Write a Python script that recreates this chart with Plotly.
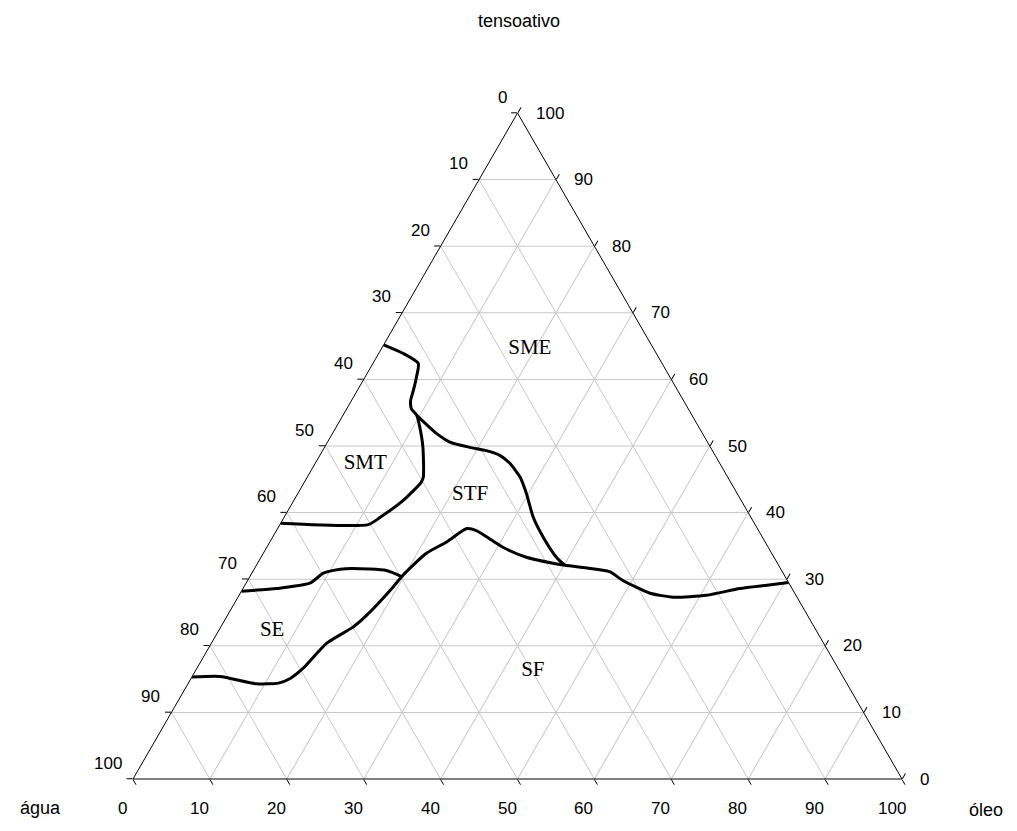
import plotly.graph_objects as go

# Values in percent.
# tensoativo = top vertex, água = bottom-left vertex, óleo = bottom-right vertex
# Each boundary: tensoativo %, óleo % (água = 100 - tensoativo - óleo)

smt_tens = [38.4, 38.2, 39.3, 41.8, 44.5, 45.3, 49.8, 52.8, 54.6, 55.6, 56.8, 58.3, 60.3, 62.4, 63.9, 65.2]
smt_oleo = [0.0, 11.5, 12.5, 14.2, 15.2, 15.1, 12.8, 10.9, 9.6, 8.4, 7.7, 7.3, 6.7, 5.9, 3.2, 0.0]

sme_tens = [54.6, 51.9, 50.6, 49.8, 49.3, 48.6, 47.4, 45.3, 42.9, 39.3, 36.3, 33.3, 32.1]
sme_oleo = [9.6, 13.5, 15.9, 18.9, 21.3, 23.4, 25.3, 27.7, 29.7, 32.4, 35.2, 38.4, 40.1]

sf_tens = [15.3, 15.4, 14.3, 14.4, 15.1, 16.6, 20.4, 22.8, 24.6, 28.8, 30.6, 33.9, 35.6, 37.6, 37.3,
           34.8, 33.3, 32.4, 32.1, 31.5, 31.1, 29.8, 27.9, 27.3, 27.6, 28.6, 29.1, 29.5]
sf_oleo = [0.0, 3.6, 8.9, 11.7, 12.9, 13.8, 15.0, 17.2, 18.1, 19.4, 19.8, 21.2, 23.0, 24.6, 26.0,
           30.7, 34.5, 38.4, 40.1, 44.5, 46.5, 48.8, 53.3, 56.6, 60.8, 64.6, 67.9, 70.5]

se_tens = [28.2, 28.6, 29.4, 30.9, 31.5, 31.6, 31.3, 30.4]
se_oleo = [0.0, 4.4, 8.3, 9.3, 11.2, 12.8, 17.3, 19.7]

region_names = ["SME", "SMT", "STF", "SE", "SF"]
region_tens = [64.6, 47.4, 42.7, 22.2, 16.2]
region_oleo = [19.3, 6.5, 22.5, 7.0, 43.9]

tick_vals = [0, 10, 20, 30, 40, 50, 60, 70, 80, 90, 100]

# ---- geometry of the triangle on the page ----
TRI_LEFT, TRI_RIGHT, TRI_BOTTOM = 133, 902, 779
PAGE_W, PAGE_H = 1017, 831
SIDE = TRI_RIGHT - TRI_LEFT
S = SIDE / 100.0          # px per unit along the base
SV = S * 3 ** 0.5 / 2     # px per unit of height

fig = go.Figure()


def add_curve(tens, oleo):
    agua = [100 - t - o for t, o in zip(tens, oleo)]
    fig.add_trace(go.Scatterternary(
        a=tens, b=agua, c=oleo, mode="lines",
        line=dict(color="black", width=3, shape="spline", smoothing=0.6),
        showlegend=False, hoverinfo="skip"))


for tt, oo in [(smt_tens, smt_oleo), (sme_tens, sme_oleo), (sf_tens, sf_oleo), (se_tens, se_oleo)]:
    add_curve(tt, oo)

fig.add_trace(go.Scatterternary(
    a=region_tens, b=[100 - t - o for t, o in zip(region_tens, region_oleo)], c=region_oleo,
    mode="text", text=region_names, textposition="middle center",
    textfont=dict(family="Liberation Serif", size=21, color="black"),
    showlegend=False, hoverinfo="skip"))

tick_font = dict(family="Liberation Sans", size=17, color="black")
annotations = []


def px_to_paper(x, y):
    return x / PAGE_W, 1 - y / PAGE_H


def tick_label(text, x, y, xanchor):
    px, py = px_to_paper(x, y)
    annotations.append(dict(text=text, x=px, y=py, xref="paper", yref="paper", showarrow=False,
                            xanchor=xanchor, yanchor="middle", font=tick_font))


for v in tick_vals:
    # água along the left edge (0 at top, 100 at bottom-left)
    t = 100 - v
    tick_label(str(v), TRI_LEFT + S * t / 2 - 9, TRI_BOTTOM - SV * t - 16, "right")
    # tensoativo along the right edge (100 at top, 0 at bottom-right)
    tick_label(str(v), TRI_RIGHT - S * v / 2 + 16, TRI_BOTTOM - SV * v, "left")
    # óleo along the base (0 at left, 100 at right)
    tick_label(str(v), TRI_LEFT + S * v - 10.5, TRI_BOTTOM + 29, "center")

title_font = dict(family="Liberation Sans", size=18, color="black")
for text, x, y in [("tensoativo", 519, 21), ("água", 40, 808), ("óleo", 986, 810)]:
    px, py = px_to_paper(x, y)
    annotations.append(dict(text=text, x=px, y=py, xref="paper", yref="paper", showarrow=False,
                            xanchor="center", yanchor="middle", font=title_font))

axis_common = dict(
    tickmode="array", tickvals=tick_vals,
    ticks="outside", ticklen=6, tickcolor="black", tickwidth=1,
    showticklabels=False,
    showline=True, linecolor="black", linewidth=1,
    showgrid=True, gridcolor="#c8c8c8", gridwidth=1,
    title=dict(text=""), min=0,
)

fig.update_layout(
    width=PAGE_W, height=PAGE_H,
    margin=dict(l=0, r=0, t=0, b=0),
    paper_bgcolor="white",
    ternary=dict(
        sum=100,
        bgcolor="white",
        domain=dict(x=[TRI_LEFT / PAGE_W, TRI_RIGHT / PAGE_W],
                    y=[(PAGE_H - TRI_BOTTOM) / PAGE_H, (PAGE_H - TRI_BOTTOM + SIDE * 3 ** 0.5 / 2) / PAGE_H]),
        aaxis=axis_common,
        baxis=axis_common,
        caxis=axis_common,
    ),
    annotations=annotations,
)

fig.write_html("out.html")
